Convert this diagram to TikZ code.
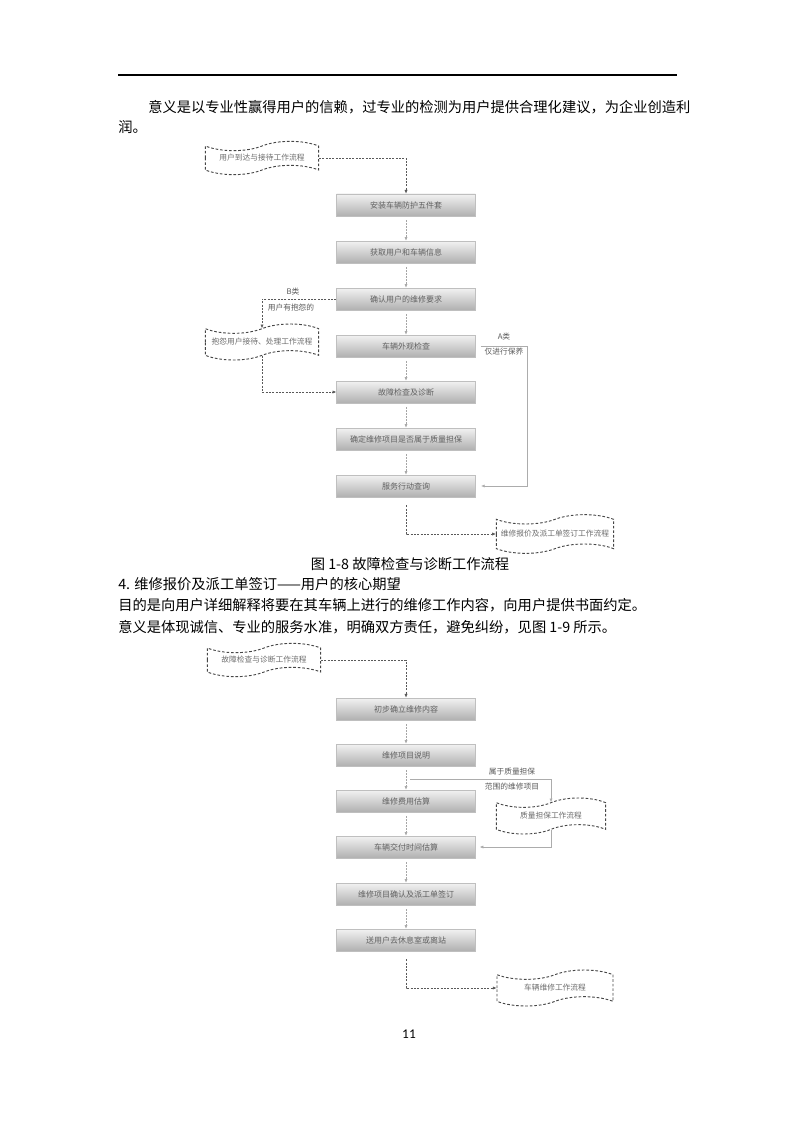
\documentclass[tikz,border=0pt]{standalone}
\usepackage{fontspec}
\setmainfont{Noto Sans CJK SC}
\newfontfamily\numfont{Carlito}
\usepackage{tikz}
\usetikzlibrary{arrows.meta,shapes.symbols,shadows}
\tikzset{
  px/.style={x=0.75pt, y=-0.75pt},
  body/.style={anchor=west, inner sep=0pt, font=\fontsize{10.7}{13}\selectfont},
  box/.style={rectangle, minimum width=104pt, minimum height=16.5pt, inner sep=1pt,
    top color=gray!10, bottom color=gray!62, draw=gray!50, line width=0.5pt,
    font=\fontsize{6}{7}\selectfont, text=gray!75!black,
    drop shadow={shadow xshift=0.6pt, shadow yshift=-0.9pt, opacity=0.25}},
  doc/.style={tape, tape bend height=7pt, draw=gray!55!black, line width=0.7pt,
    dash pattern=on 2pt off 1.4pt, minimum width=85pt, minimum height=25pt,
    inner sep=1pt, font=\fontsize{5.8}{7}\selectfont, text=gray!85!black},
  lbl/.style={inner sep=1pt, font=\fontsize{5.8}{7}\selectfont, text=gray!70!black},
  link/.style={draw=gray!70, line width=0.4pt, dash pattern=on 1.2pt off 1pt,
    -{Latex[length=2.6pt,width=2.2pt]}, shorten <=3pt},
  flow/.style={draw=gray!70!black, line width=0.45pt, dash pattern=on 1.5pt off 1pt,
    -{Latex[length=2.8pt,width=2.4pt]}},
  solidflow/.style={draw=gray!65, line width=0.5pt, -{Latex[length=2.8pt,width=2.4pt]}}
}
\begin{document}
\begin{tikzpicture}[px]
  \useasboundingbox (0,0) rectangle (794,1123);
  % header rule and running text
  \draw[line width=1.4pt] (118,75) -- (677,75);
  \node[body] (p1) at (148,107) {意义是以专业性赢得用户的信赖，过专业的检测为用户提供合理化建议，为企业创造利};
  \node[body] (p2) at (118,127) {润。};

  % figure 1-8
  \node[doc] (t1) at (262,158) {用户到达与接待工作流程};
  \node[box] (s1) at (406,205) {安装车辆防护五件套};
  \node[box] (s2) at (406,252) {获取用户和车辆信息};
  \node[box] (s3) at (406,299) {确认用户的维修要求};
  \node[box] (s4) at (406,346) {车辆外观检查};
  \node[box] (s5) at (406,392) {故障检查及诊断};
  \node[box] (s6) at (406,439) {确定维修项目是否属于质量担保};
  \node[box] (s7) at (406,486) {服务行动查询};
  \node[doc, minimum height=27pt] (t2) at (262,342) {抱怨用户接待、处理工作流程};
  \node[doc, minimum width=88pt, minimum height=29pt] (t3) at (555,534) {维修报价及派工单签订工作流程};
  \node[lbl] (lb1) at (293,292) {B类};
  \node[lbl] (lb2) at (291,308) {用户有抱怨的};
  \node[lbl] (la1) at (504,337) {A类};
  \node[lbl] (la2) at (504,352) {仅进行保养};
  \coordinate (ra) at (527,346);

  \draw[flow] (t1.east) -| (s1.north);
  \draw[link] (s1.south) -- (s2.north);
  \draw[link] (s2.south) -- (s3.north);
  \draw[link] (s3.south) -- (s4.north);
  \draw[link] (s4.south) -- (s5.north);
  \draw[link] (s5.south) -- (s6.north);
  \draw[link] (s6.south) -- (s7.north);
  \draw[flow] (s3.west) -| (t2.north);
  \draw[flow] (t2.south) |- (s5.west);
  \draw[solidflow, shorten <=4pt, shorten >=4pt] (s4.east) -- (ra) |- (s7.east);
  \draw[flow, shorten <=6pt] (s7.south) |- (t3.west);

  \node[font=\fontsize{10.7}{13}\selectfont, inner sep=0pt] (cap) at (410,564) {图 1-8 故障检查与诊断工作流程};
  \node[body] (p3) at (118,584) {4. 维修报价及派工单签订——用户的核心期望};
  \node[body] (p4) at (118,605) {目的是向用户详细解释将要在其车辆上进行的维修工作内容，向用户提供书面约定。};
  \node[body] (p5) at (118,627) {意义是体现诚信、专业的服务水准，明确双方责任，避免纠纷，见图 1-9 所示。};

  % figure 1-9
  \node[doc] (t4) at (264,660) {故障检查与诊断工作流程};
  \node[box] (b1) at (406,709) {初步确立维修内容};
  \node[box] (b2) at (406,755) {维修项目说明};
  \node[box] (b3) at (406,801) {维修费用估算};
  \node[box] (b4) at (406,847) {车辆交付时间估算};
  \node[box] (b5) at (406,894) {维修项目确认及派工单签订};
  \node[box] (b6) at (406,940) {送用户去休息室或离站};
  \node[doc, minimum width=82pt, minimum height=27pt] (t5) at (551,816) {质量担保工作流程};
  \node[doc, minimum width=87pt, minimum height=27pt] (t6) at (555,988) {车辆维修工作流程};
  \node[lbl] (lq1) at (512,772) {属于质量担保};
  \node[lbl] (lq2) at (512,787) {范围的维修项目};
  \coordinate (qa) at (410,779);

  \draw[flow] (t4.east) -| (b1.north);
  \draw[link] (b1.south) -- (b2.north);
  \draw[link] (b2.south) -- (b3.north);
  \draw[link] (b3.south) -- (b4.north);
  \draw[link] (b4.south) -- (b5.north);
  \draw[link] (b5.south) -- (b6.north);
  \draw[solidflow] (qa) -| (t5.north);
  \draw[solidflow, shorten >=3pt] (t5.south) |- (b4.east);
  \draw[flow, shorten <=6pt] (b6.south) |- (t6.west);

  \node[font=\numfont\fontsize{10}{12}\selectfont] (pg) at (409,1034) {11};
\end{tikzpicture}
\end{document}
